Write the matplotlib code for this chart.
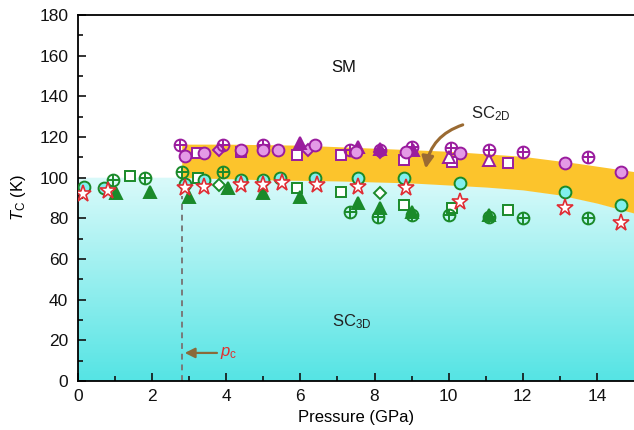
import numpy as np
import matplotlib
matplotlib.use("Agg")
import matplotlib.pyplot as plt
from matplotlib.path import Path
from matplotlib.patches import PathPatch

plt.rcParams['font.family'] = ['Liberation Sans', 'DejaVu Sans']
plt.rcParams['mathtext.fontset'] = 'custom'
plt.rcParams['mathtext.rm'] = 'Liberation Sans'
plt.rcParams['mathtext.it'] = 'Liberation Sans:italic'

# ---- boundaries of phase regions ----
cyan_p = [0, 3, 5, 7, 9, 10, 11, 12, 13, 14, 15]
cyan_top = [100, 100, 99, 98.4, 97.4, 96.4, 95.4, 94, 91.5, 87.5, 82.6]
band_p = [2.8, 4, 6, 8, 10, 12, 13.5, 15]
band_top = [116.5, 116.5, 116, 114.5, 113, 110.5, 107, 103]

# ---- data: magenta (SC2D) ----
mc_p = [2.9, 3.4, 4.4, 5.0, 5.4, 6.4, 7.5, 8.85, 10.3, 13.15, 14.65]
mc_t = [110.7, 112, 113.6, 113.6, 113.6, 116, 112.6, 112.6, 112, 107.2, 103]
mcp_p = [2.76, 3.9, 5.0, 7.35, 8.15, 9.0, 10.05, 11.1, 12.0, 13.75]
mcp_t = [116, 116, 116, 113.6, 113.6, 115, 114.6, 113.6, 112.6, 110]
ms_p = [3.2, 4.4, 5.9, 7.1, 8.8, 10.1, 11.6]
ms_t = [112, 112.5, 111, 111, 108.7, 107.7, 107.2]
mt_p = [6.0, 7.55, 8.15, 9.05]
mt_t = [117, 115, 114, 113.6]
mto_p = [10.0, 11.1]
mto_t = [110, 108.7]
md_p = [3.8, 6.2, 8.15]
md_t = [113.6, 113.6, 112.5]

# ---- data: green (SC3D) ----
gc_p = [0.16, 0.7, 2.9, 3.4, 4.4, 5.0, 5.45, 6.4, 7.55, 8.8, 10.3, 13.15, 14.65]
gc_t = [95.4, 95, 97, 99, 99, 99, 100, 100, 100, 100, 97.4, 93, 86.6]
gcp_p = [0.95, 1.8, 2.8, 3.9, 7.35, 8.1, 9.0, 10.0, 11.1, 12.0, 13.75]
gcp_t = [99, 100, 103, 103, 83, 80.7, 81.6, 81.7, 80.7, 80, 80]
gs_p = [1.4, 3.25, 5.9, 7.1, 8.8, 10.1, 11.6]
gs_t = [101, 100, 95, 93, 86.6, 85, 84]
gt_p = [1.03, 1.95, 3.0, 4.05, 5.0, 6.0, 7.55, 8.15, 9.0, 11.1]
gt_t = [92.5, 93, 90.5, 95, 92.5, 90.5, 87.5, 85, 83, 81.5]
gd_p = [3.8, 8.15]
gd_t = [96.4, 92.5]
rs_p = [0.14, 0.8, 2.9, 3.4, 4.4, 5.0, 5.5, 6.45, 7.55, 8.85, 10.3, 13.15, 14.65]
rs_t = [92, 93.5, 95, 95.5, 96.4, 96.4, 97.4, 96.4, 95.4, 95, 88, 85, 77.7]

pc = 2.8

fig = plt.figure(figsize=(6.34, 4.30), dpi=100)
ax = fig.add_axes([0.123, 0.114, 0.877, 0.851])
ax.set_xlim(0, 15)
ax.set_ylim(0, 180)

# cyan gradient region
bot = np.array([85, 228, 228]) / 255
top = np.array([218, 250, 250]) / 255
cols = bot[None, :] + (top - bot)[None, :] * np.linspace(0, 1, 256)[:, None]
img = cols[:, None, :]
im = ax.imshow(img, extent=[0, 15, 0, 100], origin='lower', aspect='auto', zorder=0.5)
verts = [(0, 0)] + list(zip(cyan_p, cyan_top)) + [(15, 0), (0, 0)]
poly = PathPatch(Path(verts), transform=ax.transData, facecolor='none', edgecolor='none')
ax.add_patch(poly)
im.set_clip_path(poly)

# yellow band
pp = np.linspace(pc, 15, 200)
ct = np.interp(pp, cyan_p, cyan_top)
bt = np.interp(pp, band_p, band_top)
ax.fill_between(pp, ct, bt, color='#fcc42c', lw=0, zorder=0.6)

# dashed pc line
ax.plot([pc, pc], [0, 91], ls=(0, (3, 2.5)), color='#7a7a7a', lw=1.4, zorder=1)

ms = 8.5
mew = 1.4
mag_e = '#9a1c9e'
mag_f = '#e49ae6'
grn = '#1a8a2a'
cyan_f = '#80f0ee'
red = '#e02c34'

# green
ax.plot(gs_p, gs_t, 's', ms=ms - 1, mfc='white', mec=grn, mew=mew, ls='none', zorder=3)
ax.plot(gd_p, gd_t, 'D', ms=ms - 2, mfc='white', mec=grn, mew=mew, ls='none', zorder=3)
ax.plot(gcp_p, gcp_t, 'o', ms=ms, mfc='none', mec=grn, mew=mew, ls='none', zorder=3)
ax.plot(gcp_p, gcp_t, '+', ms=ms, mec=grn, mew=mew, ls='none', zorder=3)
ax.plot(gt_p, gt_t, '^', ms=ms, mfc=grn, mec=grn, mew=mew, ls='none', zorder=3)
ax.plot(gc_p, gc_t, 'o', ms=ms, mfc=cyan_f, mec=grn, mew=mew, ls='none', zorder=3)
# magenta
ax.plot(ms_p, ms_t, 's', ms=ms - 1, mfc='white', mec=mag_e, mew=mew, ls='none', zorder=3)
ax.plot(mto_p, mto_t, '^', ms=ms, mfc='white', mec=mag_e, mew=mew, ls='none', zorder=3)
ax.plot(md_p, md_t, 'D', ms=ms - 2, mfc=mag_f, mec=mag_e, mew=mew, ls='none', zorder=3)
ax.plot(mt_p, mt_t, '^', ms=ms, mfc=mag_e, mec=mag_e, mew=mew, ls='none', zorder=3)
ax.plot(mcp_p, mcp_t, 'o', ms=ms, mfc='none', mec=mag_e, mew=mew, ls='none', zorder=3)
ax.plot(mcp_p, mcp_t, '+', ms=ms, mec=mag_e, mew=mew, ls='none', zorder=3)
ax.plot(mc_p, mc_t, 'o', ms=ms, mfc=mag_f, mec=mag_e, mew=mew, ls='none', zorder=3)
# stars
ax.plot(rs_p, rs_t, '*', ms=ms + 4, mfc='white', mec=red, mew=1.2, ls='none', zorder=4)

# labels / annotations
ax.text(7.16, 154, 'SM', fontsize=12, color='#111111', va='center', ha='center')
ax.text(11.15, 131.5, r'SC$_{\mathrm{2D}}$', fontsize=12, color='#222222', va='center', ha='center')
ax.text(7.4, 29, r'SC$_{\mathrm{3D}}$', fontsize=12, color='#222222', va='center', ha='center')
ax.annotate('', xy=(9.38, 104.5), xytext=(10.38, 126),
            arrowprops=dict(arrowstyle='-|>,head_width=0.35,head_length=0.7', color='#9a6a32', lw=2.2,
                            connectionstyle='arc3,rad=0.3', shrinkA=0, shrinkB=0), zorder=5)
ax.annotate('', xy=(2.88, 13.8), xytext=(3.75, 13.8),
            arrowprops=dict(arrowstyle='-|>,head_width=0.3,head_length=0.6', color='#8a6a3a', lw=1.6,
                            shrinkA=0, shrinkB=0), zorder=5)
ax.text(3.82, 13.8, r'$p_{\mathrm{c}}$', fontsize=12, color='#e03030', va='center', ha='left')

ax.set_xticks(range(0, 15, 2))
ax.set_xticks(range(1, 15, 2), minor=True)
ax.set_yticks(range(0, 181, 20))
ax.set_yticks(range(10, 180, 20), minor=True)
ax.tick_params(which='both', direction='in', labelsize=12.5, colors='#111111', width=1.2)
ax.tick_params(which='major', length=6)
ax.tick_params(which='minor', length=3.5)
ax.tick_params(axis='x', pad=6)
ax.tick_params(axis='y', pad=7)
for s in ['left', 'bottom', 'top']:
    ax.spines[s].set_linewidth(1.3)
ax.spines['right'].set_visible(False)
ax.set_xlabel('Pressure (GPa)', fontsize=12, labelpad=4)
ax.set_ylabel(r'$T_{\mathrm{C}}$ (K)', fontsize=12, labelpad=8)

fig.savefig('out.png', dpi=100)
